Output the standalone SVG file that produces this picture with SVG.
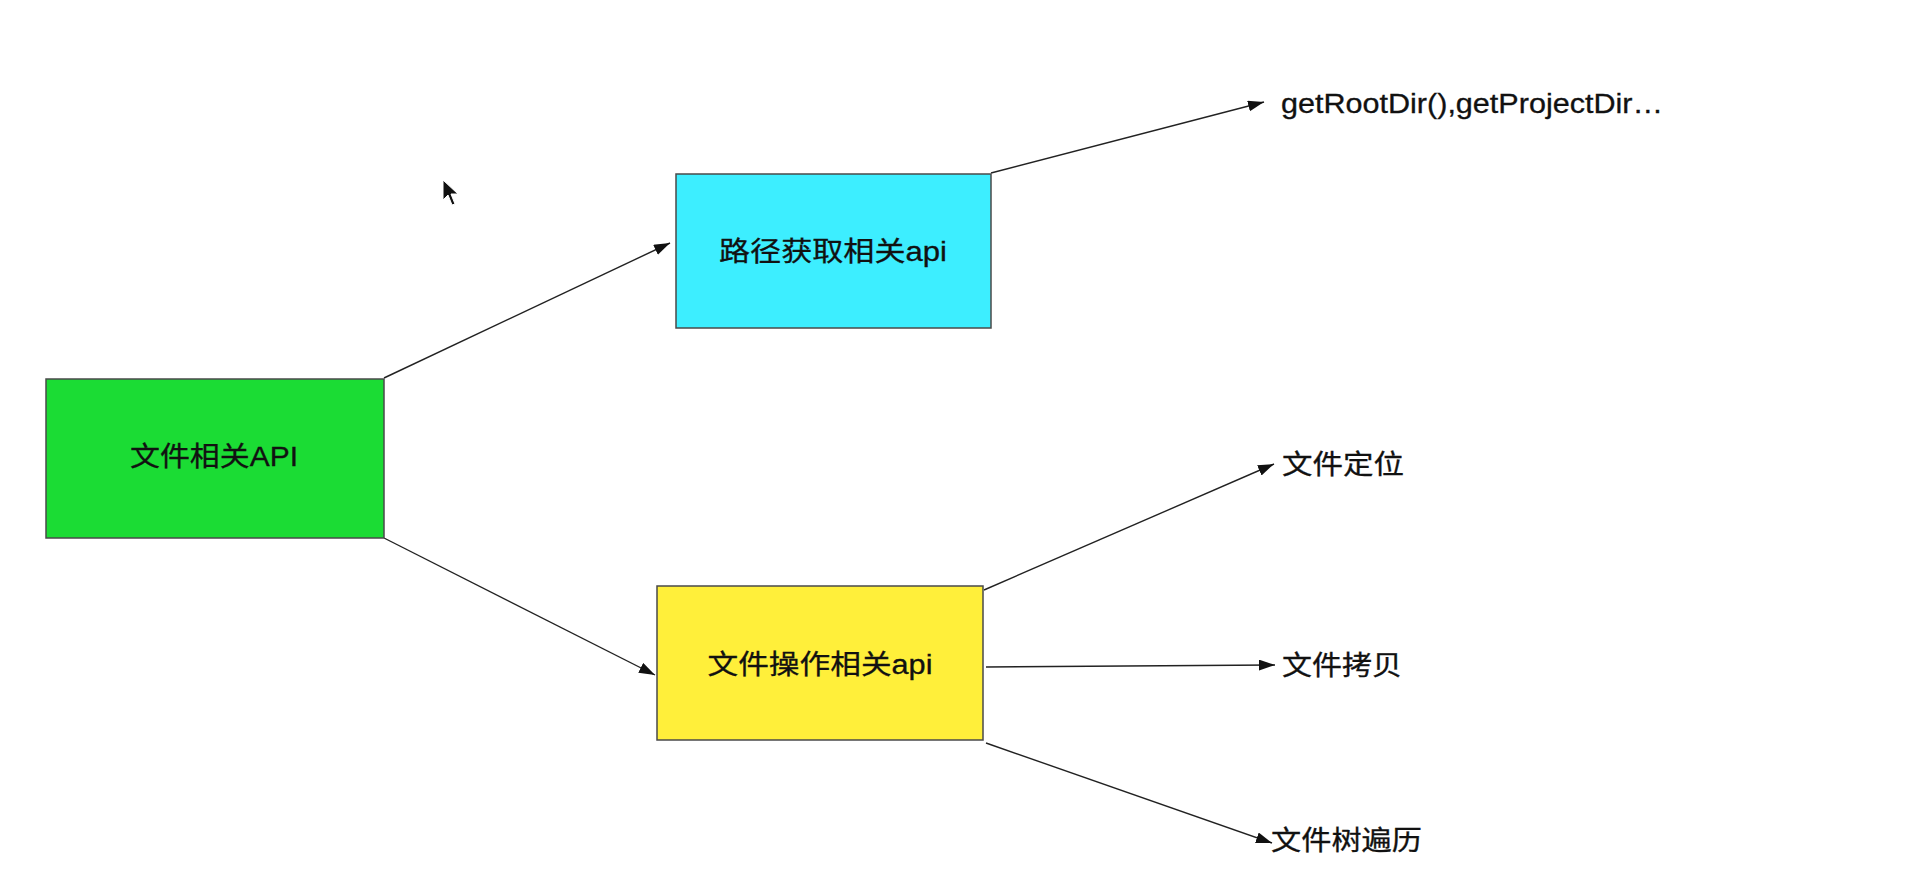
<svg xmlns="http://www.w3.org/2000/svg" width="1916" height="896" viewBox="0 0 1916 896">
  <defs>
    <marker id="arrow" markerUnits="userSpaceOnUse" markerWidth="18" markerHeight="12" refX="16" refY="5.5" orient="auto">
      <path d="M0,0 L16,5.5 L0,11 z" fill="#111"/>
    </marker>
    <style>
      .box { stroke: #4a4a4a; stroke-width: 1.5; }
      .lbl { font-family: "Liberation Sans", "Noto Sans CJK SC", sans-serif; font-size: 27px; fill: #111; stroke: #111; stroke-width: 0.3; }
      .edge { fill: none; stroke: #222; stroke-width: 1.4; marker-end: url(#arrow); }
    </style>
  </defs>
  <rect width="1916" height="896" fill="#ffffff"/>

  <g id="connectors">
    <line class="edge" x1="384" y1="378" x2="670" y2="243"/>
    <line class="edge" x1="384" y1="538" x2="655" y2="675"/>
    <line class="edge" x1="991" y1="173" x2="1264" y2="102"/>
    <line class="edge" x1="984" y1="590" x2="1274" y2="464"/>
    <line class="edge" x1="986" y1="667" x2="1275" y2="665"/>
    <line class="edge" x1="986" y1="743" x2="1272" y2="843"/>
  </g>

  <g id="node-file-api">
    <rect class="box" x="46" y="379" width="338" height="159" fill="#1bdc34"/>
    <text class="lbl" x="214" y="457" text-anchor="middle" dominant-baseline="central" textLength="168" lengthAdjust="spacingAndGlyphs">文件相关API</text>
  </g>

  <g id="node-path-api">
    <rect class="box" x="676" y="174" width="315" height="154" fill="#3deeff"/>
    <text class="lbl" x="833" y="252" text-anchor="middle" dominant-baseline="central" textLength="228" lengthAdjust="spacingAndGlyphs">路径获取相关api</text>
  </g>

  <g id="node-fileop-api">
    <rect class="box" x="657" y="586" width="326" height="154" fill="#ffef3a"/>
    <text class="lbl" x="820" y="665" text-anchor="middle" dominant-baseline="central" textLength="225" lengthAdjust="spacingAndGlyphs">文件操作相关api</text>
  </g>

  <g id="node-getrootdir">
    <text class="lbl" x="1281" y="113" font-size="28" textLength="382" lengthAdjust="spacingAndGlyphs">getRootDir(),getProjectDir…</text>
  </g>

  <g id="node-locate">
    <text class="lbl" x="1282" y="465" dominant-baseline="central" textLength="122" lengthAdjust="spacingAndGlyphs">文件定位</text>
  </g>

  <g id="node-copy">
    <text class="lbl" x="1282" y="666" dominant-baseline="central" textLength="120" lengthAdjust="spacingAndGlyphs">文件拷贝</text>
  </g>

  <g id="node-traverse">
    <text class="lbl" x="1271" y="841" dominant-baseline="central" textLength="151" lengthAdjust="spacingAndGlyphs">文件树遍历</text>
  </g>

  <path d="M443,180 L443,200 L448,195 L452,205 L455,204 L451,194 L458,194 z" fill="#111" stroke="#fff" stroke-width="1"/>
</svg>
